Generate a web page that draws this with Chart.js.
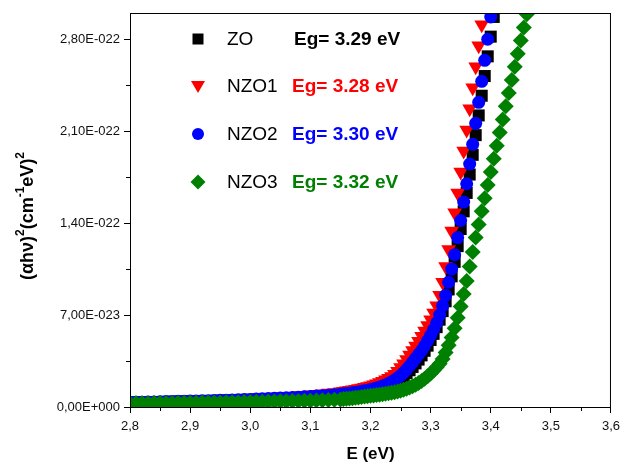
<!DOCTYPE html>
<html>
<head>
<meta charset="utf-8">
<script src="https://cdn.jsdelivr.net/npm/chart.js@4.4.1/dist/chart.umd.min.js"></script>
<style>
  html, body { margin: 0; padding: 0; background: #fff; }
  #wrap { width: 626px; height: 465px; }
</style>
</head>
<body>
<div id="wrap"><canvas id="chart" width="626" height="465"></canvas></div>
<script>
// Photon energy (eV)
const energy = [
  2.80, 2.81, 2.82, 2.83, 2.84, 2.85, 2.86, 2.87, 2.88, 2.89,
  2.90, 2.91, 2.92, 2.93, 2.94, 2.95, 2.96, 2.97, 2.98, 2.99,
  3.00, 3.01, 3.02, 3.03, 3.04, 3.05, 3.06, 3.07, 3.08, 3.09,
  3.10, 3.11, 3.12, 3.13, 3.14, 3.15,
  3.155, 3.16, 3.165, 3.17, 3.175, 3.18, 3.185, 3.19, 3.195, 3.20,
  3.205, 3.21, 3.215, 3.22, 3.225, 3.23, 3.235, 3.24, 3.245, 3.25,
  3.255, 3.26, 3.265, 3.27, 3.275, 3.28, 3.285, 3.29, 3.295, 3.30,
  3.305, 3.31, 3.315, 3.32, 3.325, 3.33, 3.335, 3.34, 3.345, 3.35,
  3.355, 3.36, 3.365, 3.37, 3.375, 3.38, 3.385, 3.39, 3.395, 3.40,
  3.405, 3.41, 3.415, 3.42, 3.425, 3.43, 3.435, 3.44, 3.445, 3.45,
  3.455, 3.46, 3.465
];

// (alpha h nu)^2 in units of 1E-23 (cm^-1 eV)^2
const zoValues = [
  0.34, 0.35, 0.35, 0.36, 0.37, 0.38, 0.39, 0.40, 0.41, 0.42,
  0.43, 0.44, 0.45, 0.46, 0.47, 0.48, 0.50, 0.51, 0.52, 0.54,
  0.55, 0.57, 0.59, 0.60, 0.62, 0.64, 0.66, 0.68, 0.71, 0.73,
  0.76, 0.79, 0.82, 0.85, 0.89, 0.93,
  0.95, 0.97, 1.00, 1.03, 1.06, 1.09, 1.13, 1.17, 1.21, 1.26,
  1.31, 1.36, 1.42, 1.49, 1.57, 1.66, 1.77, 1.89, 2.03, 2.19,
  2.37, 2.57, 2.80, 3.05, 3.32, 3.61, 3.93, 4.28, 4.67, 5.10,
  5.57, 6.08, 6.65, 7.30, 8.05, 8.95, 9.95, 11.05, 12.25, 13.55,
  14.9, 16.3, 17.7, 19.2, 20.7, 22.2, 23.7, 25.2, 26.7, 28.2,
  29.7, 31.2
];
const nzo1Values = [
  0.36, 0.37, 0.38, 0.39, 0.40, 0.41, 0.42, 0.43, 0.44, 0.45,
  0.46, 0.47, 0.49, 0.50, 0.52, 0.53, 0.55, 0.57, 0.59, 0.61,
  0.63, 0.65, 0.67, 0.70, 0.72, 0.75, 0.78, 0.81, 0.85, 0.89,
  0.93, 0.97, 1.01, 1.06, 1.11, 1.16,
  1.19, 1.23, 1.27, 1.31, 1.35, 1.40, 1.45, 1.50, 1.56, 1.62,
  1.69, 1.77, 1.86, 1.96, 2.07, 2.19, 2.33, 2.50, 2.72, 3.00,
  3.30, 3.62, 3.96, 4.30, 4.64, 5.00, 5.38, 5.78, 6.20, 6.65,
  7.15, 7.70, 8.50, 9.50, 10.7, 12.0, 13.4, 14.8, 16.3, 17.9,
  19.5, 21.1, 22.7, 24.3, 25.9, 27.5, 29.1, 30.7
];
const nzo2Values = [
  0.36, 0.37, 0.37, 0.38, 0.39, 0.40, 0.41, 0.42, 0.43, 0.44,
  0.45, 0.46, 0.47, 0.48, 0.50, 0.51, 0.52, 0.54, 0.55, 0.57,
  0.58, 0.60, 0.62, 0.64, 0.66, 0.68, 0.70, 0.72, 0.75, 0.78,
  0.80, 0.83, 0.86, 0.90, 0.94, 0.98,
  1.00, 1.02, 1.05, 1.08, 1.11, 1.15, 1.19, 1.23, 1.28, 1.33,
  1.38, 1.44, 1.51, 1.59, 1.68, 1.78, 1.90, 2.04, 2.20, 2.38,
  2.60, 2.85, 3.12, 3.40, 3.70, 4.00, 4.30, 4.65, 5.05, 5.45,
  5.90, 6.40, 7.00, 7.70, 8.50, 9.50, 10.5, 11.6, 12.9, 14.2,
  15.6, 17.0, 18.5, 20.0, 21.6, 23.2, 24.8, 26.4, 28.0, 29.7,
  31.3
];
const nzo3Values = [
  0.28, 0.28, 0.29, 0.29, 0.30, 0.30, 0.31, 0.31, 0.32, 0.32,
  0.33, 0.33, 0.34, 0.34, 0.35, 0.35, 0.36, 0.37, 0.37, 0.38,
  0.39, 0.40, 0.40, 0.41, 0.42, 0.43, 0.44, 0.45, 0.46, 0.47,
  0.48, 0.50, 0.51, 0.53, 0.55, 0.57,
  0.60, 0.62, 0.64, 0.67, 0.70, 0.73, 0.76, 0.79, 0.82, 0.85,
  0.88, 0.91, 0.94, 0.97, 1.00, 1.04, 1.08, 1.13, 1.18, 1.24,
  1.31, 1.39, 1.48, 1.58, 1.70, 1.83, 1.98, 2.15, 2.34, 2.55,
  2.78, 3.02, 3.30, 3.65, 4.15, 4.70, 5.30, 6.00, 6.80, 7.65,
  8.60, 9.60, 10.7, 11.8, 12.9, 13.9, 14.9, 15.9, 16.9, 17.9,
  18.9, 19.9, 20.9, 21.9, 22.9, 23.9, 24.9, 25.9, 26.9, 27.9,
  28.9, 29.9, 30.9
];

const seriesNames = ['ZO', 'NZO1', 'NZO2', 'NZO3'];
const bandGaps = ['Eg= 3.29 eV', 'Eg= 3.28 eV', 'Eg= 3.30 eV', 'Eg= 3.32 eV'];
const xTickLabels = ['2,8', '2,9', '3,0', '3,1', '3,2', '3,3', '3,4', '3,5', '3,6'];
const yTickLabels = ['0,00E+000', '7,00E-023', '1,40E-022', '2,10E-022', '2,80E-022'];

const FONT = "'Liberation Sans', Arial, sans-serif";

// estilo de cada serie (marcador)
const STYLES = [
  { color: '#000000', pointStyle: 'rect',     radius: 8.5, rotation: 0 },
  { color: '#ff0000', pointStyle: 'triangle', radius: 8.5, rotation: 180 },
  { color: '#0000ff', pointStyle: 'circle',   radius: 6.5, rotation: 0 },
  { color: '#008000', pointStyle: 'rectRot',  radius: 8,   rotation: 0 }
];
const allValues = [zoValues, nzo1Values, nzo2Values, nzo3Values];

function toPoints(values) {
  return values.map((v, i) => ({ x: energy[i], y: v }));
}

const isMinorX = v => Math.round((v - 2.8) / 0.05) % 2 === 1;
const isMinorY = v => Math.round(v / 3.5) % 2 === 1;

// marcador de leyenda dibujado a mano
function drawMarker(ctx, style, x, y) {
  ctx.save();
  ctx.fillStyle = style.color;
  ctx.beginPath();
  if (style.pointStyle === 'rect') {
    ctx.rect(x - 5.5, y - 5.5, 11, 11);
  } else if (style.pointStyle === 'triangle') {
    ctx.moveTo(x - 7, y - 5);
    ctx.lineTo(x + 7, y - 5);
    ctx.lineTo(x, y + 7);
    ctx.closePath();
  } else if (style.pointStyle === 'circle') {
    ctx.arc(x, y, 6, 0, Math.PI * 2);
  } else {
    ctx.moveTo(x, y - 7.5);
    ctx.lineTo(x + 7.5, y);
    ctx.lineTo(x, y + 7.5);
    ctx.lineTo(x - 7.5, y);
    ctx.closePath();
  }
  ctx.fill();
  ctx.restore();
}

// texto con superindices, en horizontal a partir de x
function drawRichText(ctx, parts, x, y) {
  parts.forEach(p => {
    ctx.font = p.sup ? 'bold 12px ' + FONT : 'bold 18px ' + FONT;
    ctx.fillText(p.t, x, p.sup ? y - 7 : y);
    x += ctx.measureText(p.t).width;
  });
}

const yTitleParts = [
  { t: '(\u03b1h\u03bd)' }, { t: '2', sup: true },
  { t: '(cm' }, { t: '-1', sup: true },
  { t: 'eV)' }, { t: '2', sup: true }
];

const decorPlugin = {
  id: 'decor',
  afterDraw(chart) {
    const { ctx, chartArea: a, scales } = chart;
    ctx.save();

    // marco
    ctx.strokeStyle = '#000';
    ctx.lineWidth = 1;
    ctx.strokeRect(a.left + 0.5, a.top + 0.5, a.right - a.left - 1, a.bottom - a.top);

    // ticks menores
    ctx.beginPath();
    scales.x.ticks.forEach(t => {
      if (!isMinorX(t.value)) return;
      const px = Math.round(scales.x.getPixelForValue(t.value)) + 0.5;
      ctx.moveTo(px, a.bottom);
      ctx.lineTo(px, a.bottom + 4);
    });
    scales.y.ticks.forEach(t => {
      if (!isMinorY(t.value)) return;
      const py = Math.round(scales.y.getPixelForValue(t.value)) + 0.5;
      ctx.moveTo(a.left, py);
      ctx.lineTo(a.left - 4, py);
    });
    ctx.stroke();

    // titulos de ejes
    ctx.fillStyle = '#000';
    ctx.font = 'bold 17px ' + FONT;
    ctx.textAlign = 'center';
    ctx.textBaseline = 'middle';
    ctx.fillText('E (eV)', (a.left + a.right) / 2, 454);

    ctx.save();
    ctx.textAlign = 'left';
    let w = 0;
    yTitleParts.forEach(p => {
      ctx.font = p.sup ? 'bold 12px ' + FONT : 'bold 18px ' + FONT;
      w += ctx.measureText(p.t).width;
    });
    ctx.translate(28, 216);
    ctx.rotate(-Math.PI / 2);
    drawRichText(ctx, yTitleParts, -w / 2, 0);
    ctx.restore();

    // leyenda
    const rowsY = [39, 86, 134, 182];
    ctx.textAlign = 'left';
    STYLES.forEach((s, i) => {
      const y = rowsY[i];
      drawMarker(ctx, s, 198, y);
      ctx.fillStyle = '#000';
      ctx.font = '19px ' + FONT;
      ctx.fillText(seriesNames[i], 227, y + 1);
      ctx.fillStyle = s.color;
      ctx.font = 'bold 19px ' + FONT;
      ctx.fillText(bandGaps[i], i === 0 ? 294 : 292, y + 1);
    });

    ctx.restore();
  }
};

new Chart(document.getElementById('chart'), {
  type: 'scatter',
  data: {
    datasets: allValues.map((vals, i) => ({
      label: seriesNames[i],
      data: toPoints(vals),
      order: 4 - i,
      showLine: false,
      clip: 0,
      pointStyle: STYLES[i].pointStyle,
      pointRotation: STYLES[i].rotation,
      pointRadius: STYLES[i].radius,
      pointHoverRadius: STYLES[i].radius,
      pointBackgroundColor: STYLES[i].color,
      pointBorderColor: STYLES[i].color,
      pointBorderWidth: 0
    }))
  },
  options: {
    responsive: false,
    animation: false,
    events: [],
    layout: { padding: { top: 13, right: 12, left: 0, bottom: 0 } },
    plugins: {
      legend: { display: false },
      tooltip: { enabled: false }
    },
    scales: {
      x: {
        type: 'linear',
        min: 2.8,
        max: 3.6,
        border: { color: '#000', width: 1 },
        grid: {
          drawOnChartArea: false,
          tickLength: 6,
          tickColor: c => (c.tick && isMinorX(c.tick.value)) ? 'rgba(0,0,0,0)' : '#000'
        },
        ticks: {
          stepSize: 0.05,
          includeBounds: false,
          autoSkip: false,
          maxRotation: 0,
          padding: 6,
          color: '#111',
          font: { family: FONT, size: 13 },
          callback: v => {
            const k = Math.round((v - 2.8) / 0.05);
            return k % 2 === 0 ? xTickLabels[k / 2] : '';
          }
        },
        afterFit: s => { s.height = 58; }
      },
      y: {
        type: 'linear',
        min: 0,
        max: 30,
        border: { color: '#000', width: 1 },
        grid: {
          drawOnChartArea: false,
          tickLength: 6,
          tickColor: c => (c.tick && isMinorY(c.tick.value)) ? 'rgba(0,0,0,0)' : '#000'
        },
        ticks: {
          stepSize: 3.5,
          includeBounds: false,
          autoSkip: false,
          padding: 4,
          color: '#111',
          font: { family: FONT, size: 13 },
          callback: v => {
            const k = Math.round(v / 3.5);
            return k % 2 === 0 ? yTickLabels[k / 2] : '';
          }
        },
        afterFit: s => { s.width = 130; }
      }
    }
  },
  plugins: [decorPlugin]
});
</script>
</body>
</html>
